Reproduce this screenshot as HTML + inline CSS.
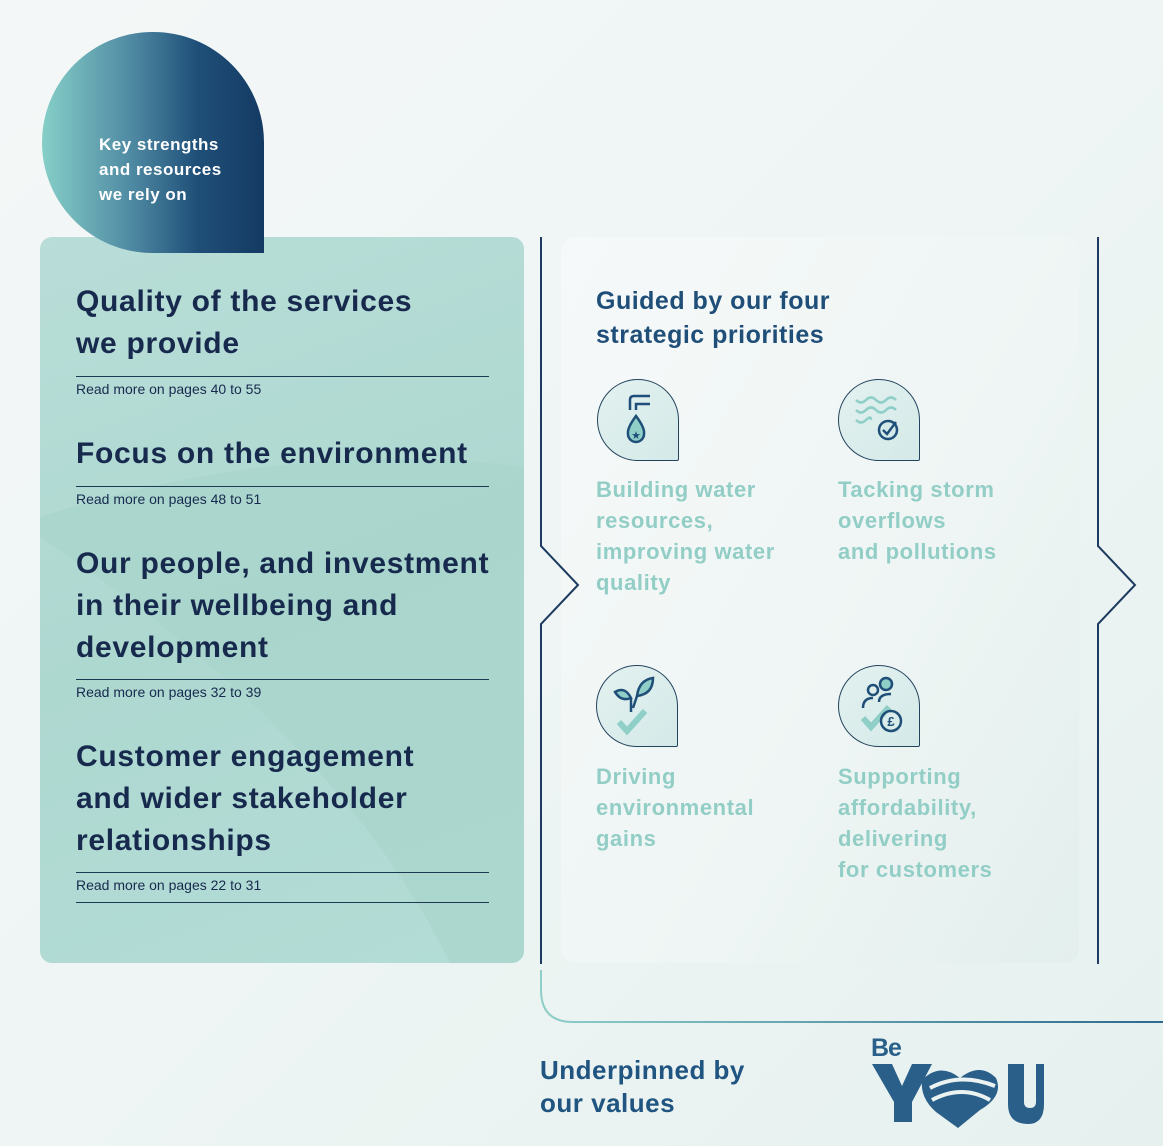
<!DOCTYPE html>
<html><head><meta charset="utf-8"><style>
*{margin:0;padding:0;box-sizing:border-box}
body{width:1163px;height:1146px;position:relative;overflow:hidden;font-family:"Liberation Sans",sans-serif;background:linear-gradient(135deg,#f4f7f7 0%,#eef5f4 50%,#e6f1ef 100%)}
.a{position:absolute}
.blob{left:42px;top:32px;width:222px;height:221px;border-radius:111px 111px 0 111px;background:linear-gradient(90deg,#86cfc8 0%,#4f8aa3 40%,#1f4f78 70%,#143a63 100%)}
.blob div{position:absolute;left:57px;top:100px;color:#fff;font-weight:bold;font-size:17px;line-height:25px;letter-spacing:0.5px}
.lc{left:40px;top:237px;width:484px;height:726px;border-radius:12px;background:linear-gradient(160deg,#b9ddd8 0%,#add8d0 50%,#b3dcd6 100%);overflow:hidden}
.h{position:absolute;left:76px;color:#172a4e;font-weight:bold;font-size:30px;line-height:42px;letter-spacing:0.7px}
.r{position:absolute;left:76px;color:#172a4e;font-size:14px;letter-spacing:0}
.ln{position:absolute;left:76px;width:413px;height:1px;background:#1d3a55}
.rc{left:561px;top:237px;width:518px;height:726px;border-radius:14px;background:linear-gradient(120deg,#f6f9f9 0%,#eef5f4 60%,#e3efed 100%)}
.pt{position:absolute;font-weight:bold;font-size:22px;line-height:31px;color:#92cec6;letter-spacing:0.6px}
.ic{position:absolute;width:82px;height:82px;border-radius:41px 41px 2px 41px;border:1.3px solid #24445e;background:linear-gradient(135deg,#e3f1f0,#d4eae8)}
</style></head><body>
<div class="a lc">
<svg class="a" style="left:0;top:0" width="484" height="726"><path d="M0,280 Q250,200 484,230 L484,726 L410,726 Q300,500 0,300 Z" fill="#a6d3ca" opacity="0.6"/></svg>
</div>
<div class="a rc"></div>
<svg class="a" style="left:0;top:0" width="1163" height="1146">
<defs><linearGradient id="g1" x1="0" x2="1"><stop offset="0" stop-color="#8fcfc8"/><stop offset="1" stop-color="#2e6a8e"/></linearGradient></defs>
<polyline points="541,237 541,546 578,585 541,624 541,964" fill="none" stroke="#1d3a60" stroke-width="2"/>
<polyline points="1098,237 1098,546 1135,585 1098,624 1098,964" fill="none" stroke="#1d3a60" stroke-width="2"/>
<path d="M541,970 L541,990 Q541,1022 573,1022 L1163,1022" fill="none" stroke="url(#g1)" stroke-width="2"/>
</svg>
<div class="a blob"><div>Key strengths<br>and resources<br>we rely on</div></div>
<div class="h" style="top:281px">Quality of the services<br>we provide</div>
<div class="ln" style="top:376px"></div>
<div class="r" style="top:381px">Read more on pages 40 to 55</div>
<div class="h" style="top:433px">Focus on the environment</div>
<div class="ln" style="top:486px"></div>
<div class="r" style="top:491px">Read more on pages 48 to 51</div>
<div class="h" style="top:543px">Our people, and investment<br>in their wellbeing and<br>development</div>
<div class="ln" style="top:679px"></div>
<div class="r" style="top:684px">Read more on pages 32 to 39</div>
<div class="h" style="top:736px">Customer engagement<br>and wider stakeholder<br>relationships</div>
<div class="ln" style="top:872px"></div>
<div class="r" style="top:877px">Read more on pages 22 to 31</div>
<div class="ln" style="top:902px"></div>
<div class="a" style="left:596px;top:284px;color:#1f4f78;font-weight:bold;font-size:25px;line-height:34px;letter-spacing:0.5px">Guided by our four<br>strategic priorities</div>
<div class="ic" style="left:597px;top:379px"><svg width="82" height="82"><path d="M32,30 V20 Q32,16 36,16 H52 M38,30 V24 H52" fill="none" stroke="#1f4f78" stroke-width="2.5"/><path d="M38,36 Q29,48 30,54 A8,8 0 0 0 46,54 Q47,48 38,36Z" fill="#8fcfc8" stroke="#1f4f78" stroke-width="2.5"/><text x="38" y="59" font-size="11" text-anchor="middle" fill="#1f4f78">★</text></svg></div>
<div class="ic" style="left:838px;top:379px"><svg width="82" height="82"><path d="M17,20 q5,5 10,0 t10,0 t10,0 t10,0 M17,30 q5,5 10,0 t10,0 t10,0 t10,0 M17,40 q5,5 10,0 t5,0" fill="none" stroke="#8fcfc8" stroke-width="2.5"/><circle cx="49" cy="50" r="9" fill="#d4eae8" stroke="#1f4f78" stroke-width="2.5"/><path d="M44,50 l4,4 l9,-12" fill="none" stroke="#1f4f78" stroke-width="2.5"/></svg></div>
<div class="ic" style="left:596px;top:665px"><svg width="82" height="82"><path d="M22,56 l8,9 l18,-20" fill="none" stroke="#8fcfc8" stroke-width="6"/><path d="M18,26 Q28,20 34,32 Q24,36 18,26Z M40,30 Q42,14 56,12 Q56,28 40,30Z" fill="#8fcfc8" stroke="#1f4f78" stroke-width="2.5"/><path d="M34,32 L34,46 M40,30 L36,42" stroke="#1f4f78" stroke-width="2.5"/></svg></div>
<div class="ic" style="left:838px;top:665px"><svg width="82" height="82"><circle cx="34" cy="24" r="5" fill="none" stroke="#1f4f78" stroke-width="2.5"/><circle cx="47" cy="18" r="6" fill="#8fcfc8" stroke="#1f4f78" stroke-width="2.5"/><path d="M24,42 Q24,32 34,32 M40,36 Q40,28 52,28" fill="none" stroke="#1f4f78" stroke-width="2.5"/><path d="M24,52 l8,9 l18,-20" fill="none" stroke="#8fcfc8" stroke-width="6"/><circle cx="52" cy="55" r="10" fill="none" stroke="#1f4f78" stroke-width="2.5"/><text x="52" y="60" font-size="13" font-weight="bold" text-anchor="middle" fill="#1f4f78">£</text></svg></div>
<div class="pt" style="left:596px;top:474px">Building water<br>resources,<br>improving water<br>quality</div>
<div class="pt" style="left:838px;top:474px">Tacking storm<br>overflows<br>and pollutions</div>
<div class="pt" style="left:596px;top:761px">Driving<br>environmental<br>gains</div>
<div class="pt" style="left:838px;top:761px">Supporting<br>affordability,<br>delivering<br>for customers</div>
<div class="a" style="left:540px;top:1054px;color:#1f5580;font-weight:bold;font-size:26px;line-height:33px;letter-spacing:0.5px">Underpinned by<br>our values</div>
<div class="a" style="left:871px;top:1034px;color:#2a5f8a;font-weight:bold;font-size:25px;letter-spacing:-1px">Be</div>
<svg class="a" style="left:870px;top:1062px" width="180" height="66">
<path d="M2,2 H22 L32,24 L42,2 H62 L42,40 V60 H24 V40 Z" fill="#2a5f8a"/>
<path d="M52,18 Q70,0 90,16 Q110,0 126,16 Q134,34 110,48 L88,66 L66,50 Q50,36 52,18Z" fill="#2a5f8a"/>
<path d="M60,26 Q90,10 125,24 M62,38 Q92,22 120,38" fill="none" stroke="#eaf3f2" stroke-width="4"/>
<path d="M138,2 H154 V40 Q154,46 160,46 Q166,46 166,40 V2 H174 V42 Q174,62 158,62 Q138,62 138,42Z" fill="#2a5f8a"/>
</svg>
</body></html>
